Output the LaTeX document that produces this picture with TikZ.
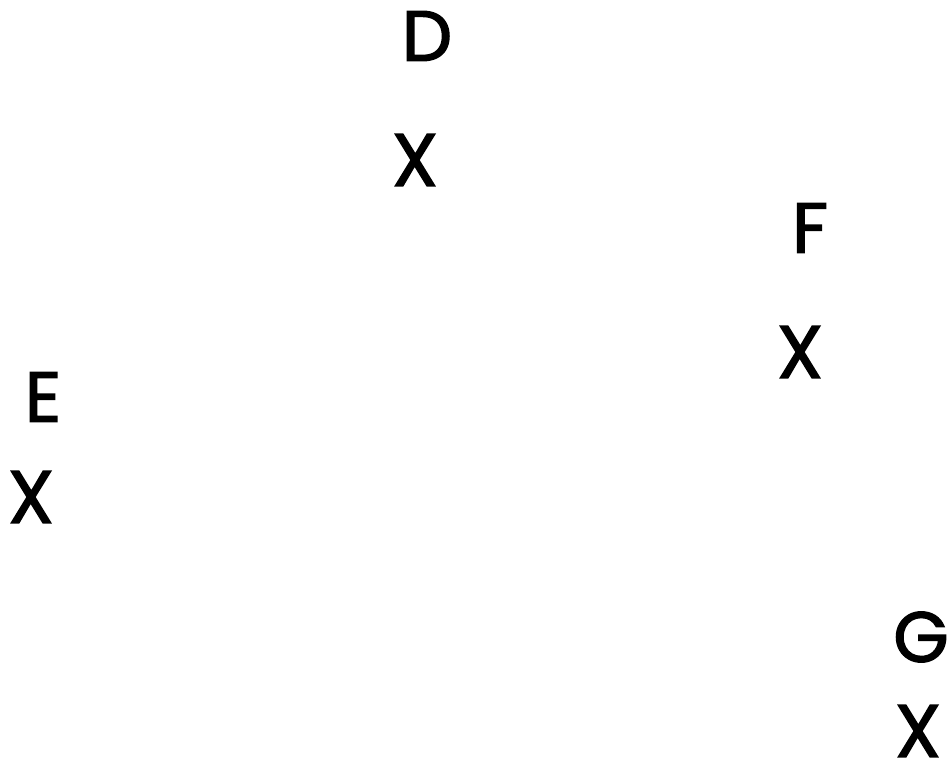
\documentclass[tikz,border=0pt]{standalone}
\usepackage{fontspec}
\setmainfont{Poppins}
\newfontfamily\medfont[FakeBold=2]{Poppins}
\begin{document}
\begin{tikzpicture}[x=1pt,y=-1pt,
  lbl/.style={inner sep=0pt, font=\medfont\fontsize{71}{80}\selectfont},
  mk/.style={inner sep=0pt, font=\medfont\fontsize{74}{84}\selectfont}]
\useasboundingbox (0,0) rectangle (950,767);
\node[lbl] (labelD) at (427,36) {D};
\node[mk] (markD) at (415,160) {X};
\node[lbl] (labelF) at (810,228) {F};
\node[mk] (markF) at (800,352) {X};
\node[lbl] (labelE) at (43,397) {E};
\node[mk] (markE) at (31,497) {X};
\node[lbl] (labelG) at (921,637) {G};
\node[mk] (markG) at (918,731) {X};
\end{tikzpicture}
\end{document}
